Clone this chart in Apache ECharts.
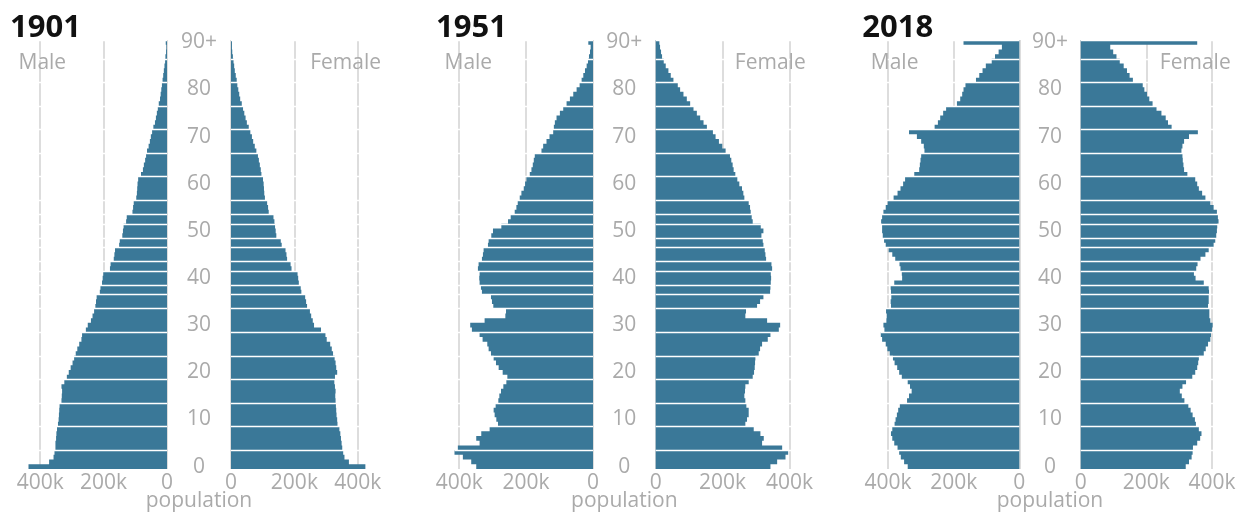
<!DOCTYPE html>
<html><head><meta charset="utf-8">
<script src="https://cdn.jsdelivr.net/npm/echarts@6/dist/echarts.min.js"></script>
<style>html,body{margin:0;padding:0;background:#fff}#c{width:1247px;height:512px}</style>
</head><body><div id="c"></div>
<script>
// ---------- DATA (population in thousands, by single year of age) ----------
const years = ['1901', '1951', '2018'];
const ages = [];
for (let a = 0; a <= 90; a++) ages.push(a === 90 ? '90+' : String(a));
const male1901 = [437,372,358,355,352,352,350,349,347,344,342,341,340,339,333,332,331,333,324,316,
  310,304,298,293,288,283,277,270,268,256,250,240,235,230,226,224,222,212,210,205,
  203,201,180,178,168,166,164,151,149,141,139,137,129,127,109,107,105,97,95,94,
  93,91,82,76,73,69,66,63,58,54,51,47,43,38,35,32,29,26,22,20,
  18,16,14,12,10,8,6,5,3,2,4];
const female1901 = [424,372,358,354,351,349,347,345,342,336,335,333,332,331,330,329,330,328,326,328,
  335,332,330,327,322,318,313,302,298,284,262,258,253,249,240,237,234,222,220,214,
  212,210,191,188,177,175,172,160,157,143,141,139,137,134,119,117,114,107,105,104,
  103,101,96,94,91,88,85,80,75,70,66,61,56,50,46,42,38,34,29,26,
  23,20,18,15,12,10,8,6,4,3,3];
const male1951 = [349,364,389,414,404,339,349,334,309,284,289,294,297,291,283,280,275,268,259,256,
  270,282,290,297,305,312,316,330,339,362,367,324,262,260,298,302,305,332,335,339,
  340,339,344,342,332,329,327,314,312,304,299,274,254,246,234,229,225,219,214,207,
  203,199,189,184,180,177,174,154,149,139,130,119,117,114,109,99,89,79,69,59,
  49,40,34,29,24,19,15,12,9,7,14];
const female1951 = [343,363,388,396,378,318,323,313,293,268,273,278,278,271,268,265,267,268,278,290,
  294,296,297,298,308,312,318,335,343,368,372,333,268,270,303,312,322,342,343,344,
  345,344,348,346,330,328,326,322,320,316,322,314,290,287,284,282,278,265,262,258,
  250,244,238,233,230,226,222,209,199,189,179,171,153,143,133,123,113,103,93,83,
  73,66,53,45,38,30,24,19,16,13,11];
const male2018 = [340,351,361,366,371,381,387,391,387,380,377,373,369,364,342,336,328,333,340,358,
  366,372,380,385,395,402,407,418,422,411,414,405,404,406,391,392,390,391,392,381,
  357,358,362,365,378,387,398,407,412,416,418,418,421,418,414,407,401,383,371,362,
  354,348,320,305,303,301,299,289,291,299,312,336,258,248,241,232,223,190,180,174,
  170,164,132,122,112,102,84,74,63,53,170];
const female2018 = [320,330,338,341,342,355,364,368,360,351,348,341,335,328,316,308,302,310,321,340,
  349,355,358,360,375,381,388,395,397,400,402,395,392,392,388,390,390,391,390,375,
  350,345,352,356,365,380,390,405,410,413,415,416,420,418,415,405,395,380,370,360,
  355,349,325,315,313,311,310,307,310,315,330,357,277,266,259,246,231,219,209,202,
  194,189,159,149,141,131,119,109,99,90,355];
// category boundaries (start of age band) where a thin white separator shows
const bandBreaks = [4,9,14,19,24,29,34,37,39,42,44,47,49,52,54,57,62,67,72,77,82,87];
const tickStep = 200; // thousands

// ---------- CHART ----------
const FONT = '"Open Sans", sans-serif';
const GRAY = '#aaaaaa';
const BAR = '#3a7898';
const GRIDLINE = '#dddddd';
const W = 138.5, TOP = 40, H = 429;
const maleZero = [167, 593, 1019.3];
const femaleZero = [231, 655.7, 1080.7];
const maleData = [male1901, male1951, male2018];
const femaleData = [female1901, female1951, female2018];
const grid = [], xAxis = [], yAxis = [], series = [], title = [], graphic = [];
const fmt = v => v === 0 ? '0' : v + 'k';

years.forEach((yr, p) => {
  const max = Math.max(...maleData[p], ...femaleData[p]);
  const gapC = (femaleZero[p] + maleZero[p]) / 2;
  [0, 1].forEach(side => {
    const gi = grid.length;
    const isMale = side === 0;
    grid.push({ left: isMale ? maleZero[p] - W : femaleZero[p], top: TOP, width: W, height: H });
    xAxis.push({
      gridIndex: gi, type: 'value', min: 0, max: max, interval: tickStep, inverse: isMale,
      axisLine: { show: false }, axisTick: { show: false },
      splitLine: { show: true, showMaxLine: false, lineStyle: { color: GRIDLINE, width: 2 } },
      axisLabel: { showMaxLabel: false, margin: 4, color: GRAY, fontSize: 21, fontFamily: FONT, formatter: fmt }
    });
    yAxis.push({
      gridIndex: gi, type: 'category', data: ages, position: isMale ? 'right' : 'left', z: 3,
      axisLine: { show: false }, axisTick: { show: false },
      axisLabel: {
        show: isMale, interval: (i) => i % 10 === 0, align: 'center',
        margin: gapC - maleZero[p], color: GRAY, fontSize: 21, fontFamily: FONT
      },
      splitLine: { show: true, interval: (i) => bandBreaks.indexOf(i) >= 0, lineStyle: { color: '#ffffff', width: 1.3 } }
    });
    series.push({
      type: 'bar', xAxisIndex: gi, yAxisIndex: gi, data: isMale ? maleData[p] : femaleData[p],
      barCategoryGap: '0%', large: true, largeThreshold: 10,
      itemStyle: { color: BAR }, silent: true, animation: false
    });
  });
  title.push({ text: yr, left: maleZero[p] - 157, top: 13, padding: 0,
    textStyle: { fontSize: 31, fontWeight: 'bold', color: '#111', fontFamily: FONT } });
  graphic.push({ type: 'text', x: maleZero[p] - W - 10, y: 63, z: 20,
    style: { text: 'Male', fill: GRAY, font: '21px ' + FONT, verticalAlign: 'middle', align: 'left' } });
  graphic.push({ type: 'text', x: femaleZero[p] + W + 11.5, y: 63, z: 20,
    style: { text: 'Female', fill: GRAY, font: '21px ' + FONT, verticalAlign: 'middle', align: 'right' } });
  graphic.push({ type: 'text', x: gapC, y: 501, z: 20,
    style: { text: 'population', fill: GRAY, font: '21px ' + FONT, verticalAlign: 'middle', align: 'center' } });
});
const chart = echarts.init(document.getElementById('c'));
chart.setOption({ animation: false, backgroundColor: '#fff', title, grid, xAxis, yAxis, series, graphic });
</script></body></html>
